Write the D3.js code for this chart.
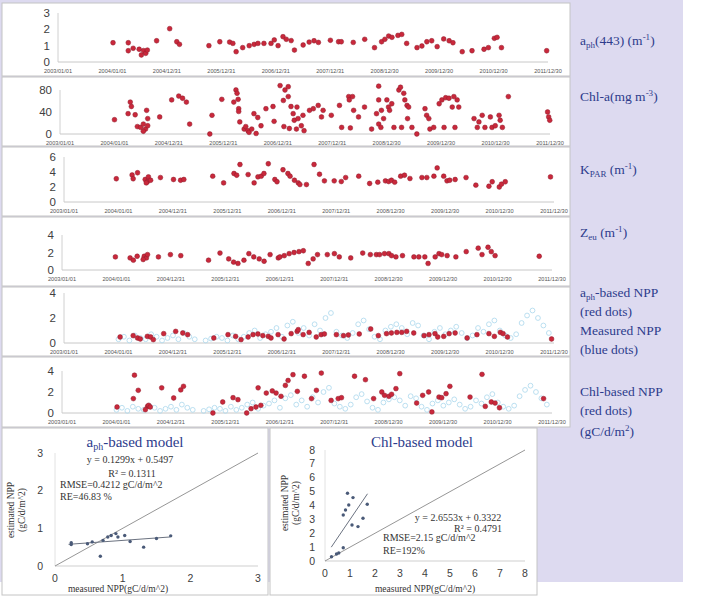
<!DOCTYPE html>
<html>
<head>
<meta charset="utf-8">
<script src="https://cdn.jsdelivr.net/npm/d3@7"></script>
<style>
body { margin: 0; background: #fff; }
</style>
</head>
<body>
<svg id="fig" width="704" height="597"></svg>
<script>
// x tick labels of the time series (Excel date axis, 365 day step)
const dateTicks = ["2003/01/01", "2004/01/01", "2004/12/31", "2005/12/31", "2006/12/31",
    "2007/12/31", "2008/12/30", "2009/12/30", "2010/12/30", "2011/12/30"];

// [decimal year, value]
const aph443 = [[2004.01,1.18],[2004.29,1.18],[2004.29,0.69],[2004.38,0.84],[2004.49,0.78],[2004.57,0.7],[2004.61,0.53],[2004.53,0.43],[2004.64,0.73],[2004.81,1.3],[2005.05,2.04],[2005.18,1.24],[2005.23,1.08],[2005.77,1.0],[2005.97,1.24],[2006.15,1.22],[2006.21,1.14],[2006.27,0.63],[2006.39,0.88],[2006.51,1.0],[2006.60,1.08],[2006.67,1.14],[2006.78,1.14],[2006.91,1.14],[2006.97,1.35],[2007.04,1.0],[2007.13,1.55],[2007.19,1.39],[2007.28,1.31],[2007.34,0.73],[2007.50,1.04],[2007.61,1.22],[2007.70,1.3],[2007.78,1.2],[2008.00,1.33],[2008.15,1.24],[2008.20,1.24],[2008.42,1.2],[2008.63,1.39],[2008.81,0.88],[2008.94,1.24],[2009.00,1.39],[2009.07,1.59],[2009.13,1.51],[2009.24,1.63],[2009.31,1.69],[2009.40,1.14],[2009.59,0.88],[2009.68,0.98],[2009.77,1.24],[2009.86,1.3],[2009.96,0.94],[2010.08,1.41],[2010.18,1.3],[2010.25,1.18],[2010.42,0.63],[2010.60,0.69],[2010.82,0.78],[2010.90,0.88],[2011.01,1.45],[2011.06,1.51],[2011.14,0.88],[2011.97,0.69]];

const chla = [[2004.00,26],[2004.29,58],[2004.31,50],[2004.25,37],[2004.38,35],[2004.42,13.5],[2004.48,12],[2004.59,43],[2004.61,28],[2004.53,18],[2004.57,9],[2004.53,5],[2004.61,15],[2004.83,31],[2005.05,62],[2005.18,69],[2005.25,65],[2005.32,58],[2005.38,18],[2005.75,0],[2005.79,34],[2005.97,63],[2006.19,58],[2006.23,80],[2006.25,74],[2006.27,63],[2006.28,46],[2006.28,41],[2006.30,22],[2006.38,9],[2006.41,13.5],[2006.45,6],[2006.47,3],[2006.52,9],[2006.60,1],[2006.56,37],[2006.63,30],[2006.69,15],[2006.78,46],[2006.91,50],[2006.93,23],[2007.04,88],[2007.10,61],[2007.13,80],[2007.19,86],[2007.19,68],[2007.24,50],[2007.28,37],[2007.30,25],[2007.11,13.5],[2007.21,10],[2007.34,9],[2007.35,49],[2007.37,28],[2007.43,15],[2007.48,6],[2007.46,34],[2007.58,43],[2007.65,46],[2007.74,52],[2007.80,31],[2007.83,43],[2007.98,34],[2008.13,52],[2008.17,12],[2008.30,68],[2008.37,68],[2008.31,62],[2008.39,43],[2008.33,11],[2008.48,31],[2008.59,49],[2008.72,9],[2008.85,87],[2008.85,62],[2008.81,37],[2008.90,43],[2008.94,28],[2008.85,18],[2008.89,12],[2009.00,62],[2009.03,49],[2009.05,43],[2009.09,55],[2009.13,12],[2009.22,80],[2009.25,85],[2009.31,74],[2009.33,62],[2009.37,52],[2009.40,49],[2009.38,28],[2009.27,12],[2009.46,12],[2009.55,0],[2009.70,46],[2009.73,34],[2009.77,28],[2009.79,9],[2009.86,12],[2009.96,55],[2010.01,62],[2010.08,66],[2010.14,65],[2010.23,68],[2010.29,62],[2010.20,49],[2010.32,49],[2010.05,12],[2010.25,12],[2010.60,28],[2010.66,12],[2010.69,22],[2010.75,34],[2010.80,12],[2010.90,31],[2010.93,12],[2010.99,15],[2011.06,34],[2011.08,25],[2011.12,12],[2011.23,68],[2011.95,40],[2011.97,31],[2011.99,25]];

const kpar = [[2003.96,3.1],[2004.25,3.6],[2004.27,3.1],[2004.35,3.9],[2004.49,3.0],[2004.53,2.7],[2004.55,3.35],[2004.51,2.55],[2004.59,2.9],[2004.77,3.26],[2005.01,3.0],[2005.14,2.9],[2005.20,3.0],[2005.73,3.44],[2005.93,2.55],[2006.12,3.8],[2006.17,3.57],[2006.23,5.0],[2006.38,3.66],[2006.49,2.55],[2006.56,3.35],[2006.62,3.44],[2006.67,3.8],[2006.75,5.1],[2006.87,3.0],[2006.91,2.7],[2007.02,4.3],[2007.11,3.8],[2007.15,3.44],[2007.23,2.9],[2007.30,2.55],[2007.33,2.33],[2007.45,2.33],[2007.59,5.0],[2007.69,3.7],[2007.78,2.82],[2007.96,2.82],[2008.09,2.73],[2008.17,3.26],[2008.41,3.44],[2008.61,2.47],[2008.76,2.64],[2008.90,2.82],[2008.96,2.73],[2009.01,2.9],[2009.07,2.64],[2009.18,3.44],[2009.25,3.57],[2009.35,3.13],[2009.57,3.26],[2009.66,3.26],[2009.79,3.44],[2009.85,4.54],[2009.97,3.44],[2010.03,2.82],[2010.08,2.9],[2010.18,3.0],[2010.38,3.26],[2010.56,2.25],[2010.80,2.1],[2010.86,2.7],[2010.99,2.0],[2011.03,2.38],[2011.10,2.7],[2011.93,3.35]];

const zeu = [[2003.98,1.5],[2004.25,1.38],[2004.31,1.12],[2004.38,1.57],[2004.51,1.57],[2004.55,1.38],[2004.57,1.76],[2004.49,1.2],[2004.77,1.5],[2004.99,1.76],[2005.18,1.64],[2005.69,1.12],[2005.90,1.94],[2006.06,1.27],[2006.15,0.9],[2006.23,0.75],[2006.34,1.12],[2006.43,1.87],[2006.52,1.5],[2006.62,1.27],[2006.71,1.0],[2006.82,1.76],[2006.97,1.38],[2007.00,1.5],[2007.08,1.64],[2007.17,1.87],[2007.26,2.0],[2007.35,2.1],[2007.43,2.2],[2007.52,0.75],[2007.61,1.27],[2007.69,1.76],[2007.87,1.76],[2008.00,1.87],[2008.09,1.5],[2008.30,1.38],[2008.52,1.94],[2008.66,1.76],[2008.77,1.76],[2008.83,1.76],[2008.92,1.87],[2009.00,1.87],[2009.05,1.64],[2009.13,1.5],[2009.25,1.64],[2009.46,1.5],[2009.55,1.5],[2009.66,1.5],[2009.72,0.75],[2009.85,1.5],[2009.92,1.87],[2009.97,1.76],[2010.07,1.64],[2010.23,1.5],[2010.42,2.1],[2010.64,2.5],[2010.71,1.76],[2010.82,2.6],[2010.88,2.1],[2010.95,1.64],[2011.76,1.57]];

const aphNPP = [[2004.03,0.48],[2004.27,0.59],[2004.35,0.4],[2004.40,0.32],[2004.53,0.53],[2004.59,0.48],[2004.64,0.27],[2004.83,0.75],[2005.05,0.93],[2005.18,0.8],[2005.27,0.67],[2005.75,0.4],[2006.01,0.67],[2006.15,0.53],[2006.25,0.27],[2006.38,0.48],[2006.47,0.67],[2006.56,0.72],[2006.65,0.59],[2006.75,0.53],[2006.80,0.4],[2006.93,0.67],[2007.04,0.32],[2007.17,0.75],[2007.28,0.93],[2007.30,1.07],[2007.39,0.67],[2007.50,0.85],[2007.63,0.48],[2007.72,0.67],[2007.78,0.72],[2008.00,0.67],[2008.13,0.59],[2008.22,0.64],[2008.42,0.72],[2008.63,1.12],[2008.77,0.59],[2008.92,0.75],[2009.01,0.8],[2009.11,0.85],[2009.20,0.85],[2009.29,0.93],[2009.42,0.8],[2009.61,0.59],[2009.70,0.67],[2009.81,0.75],[2009.86,0.48],[2009.97,0.53],[2010.07,0.75],[2010.18,0.8],[2010.40,0.4],[2010.58,0.67],[2010.80,0.75],[2010.90,0.53],[2011.01,0.85],[2011.06,0.75],[2011.14,0.48],[2011.95,0.32]];

const chlNPP = [[2004.01,0.57],[2004.31,1.37],[2004.33,3.6],[2004.40,2.16],[2004.57,0.63],[2004.59,0.73],[2004.62,0.57],[2004.53,0.32],[2004.83,2.4],[2005.05,1.43],[2005.18,2.2],[2005.23,2.54],[2005.77,0],[2005.95,1.05],[2006.14,1.46],[2006.23,1.27],[2006.39,0],[2006.47,0.41],[2006.56,0.57],[2006.60,2.4],[2006.65,0.73],[2006.75,1.9],[2006.86,2.1],[2006.93,1.9],[2007.02,1.59],[2007.10,2.63],[2007.15,3.1],[2007.24,3.65],[2007.32,2.06],[2007.45,3.5],[2007.58,1.37],[2007.67,2.16],[2007.76,3.8],[2007.94,1.2],[2008.07,1.37],[2008.13,1.46],[2008.37,3.5],[2008.57,3.17],[2008.72,1.37],[2008.87,2.0],[2008.92,1.68],[2009.00,1.59],[2009.05,1.78],[2009.13,2.32],[2009.20,3.75],[2009.51,0.95],[2009.62,1.68],[2009.73,2.0],[2009.79,0.1],[2009.92,1.52],[2009.97,1.46],[2010.05,1.84],[2010.12,2.54],[2010.49,1.52],[2010.71,3.68],[2010.77,0.63],[2010.88,1.05],[2010.95,0.95],[2011.03,0.5],[2011.84,1.37]];

const measuredNPP = [[2004.0,0.3],[2004.1,0.5],[2004.2,0.2],[2004.3,0.6],[2004.4,0.4],[2004.5,0.3],[2004.6,0.7],[2004.7,0.5],[2004.8,0.2],[2004.9,0.4],[2005.0,0.6],[2005.1,0.3],[2005.2,0.8],[2005.3,0.5],[2005.4,0.3],[2005.6,0.2],[2005.7,0.35],[2005.8,0.5],[2005.9,0.4],[2006.0,0.2],[2006.1,0.6],[2006.2,0.3],[2006.3,0.5],[2006.4,0.8],[2006.5,1.0],[2006.6,0.4],[2006.7,0.7],[2006.8,0.9],[2006.9,1.2],[2007.0,0.5],[2007.1,1.4],[2007.2,1.7],[2007.3,0.8],[2007.4,1.2],[2007.5,0.6],[2007.6,1.5],[2007.7,1.0],[2007.8,2.0],[2007.9,2.4],[2008.0,0.9],[2008.1,0.6],[2008.2,0.4],[2008.3,0.8],[2008.4,1.5],[2008.5,1.8],[2008.6,1.1],[2008.7,0.5],[2008.8,0.3],[2008.9,1.0],[2009.0,1.3],[2009.1,1.5],[2009.2,1.2],[2009.3,0.7],[2009.4,1.6],[2009.5,1.4],[2009.6,0.6],[2009.7,0.3],[2009.8,0.9],[2009.9,1.2],[2010.0,0.7],[2010.1,1.0],[2010.2,1.3],[2010.3,0.8],[2010.4,0.4],[2010.5,0.6],[2010.6,1.2],[2010.7,0.9],[2010.8,1.5],[2010.9,1.8],[2011.0,1.0],[2011.1,0.6],[2011.2,0.4],[2011.3,0.7],[2011.4,1.6],[2011.5,2.2],[2011.6,2.6],[2011.7,2.0],[2011.8,1.4],[2011.9,0.8]];

// validation scatter: [measured, estimated]
const aphScatter = [[0.24,0.62],[0.24,0.57],[0.48,0.59],[0.55,0.64],[0.67,0.26],[0.71,0.68],[0.78,0.77],[0.83,0.81],[0.9,0.86],[0.93,0.77],[1.03,0.81],[1.11,0.65],[1.31,0.5],[1.5,0.73],[1.71,0.8]];
const chlScatter = [[0.26,0.31],[0.46,0.5],[0.55,0.58],[0.73,0.96],[0.9,4.88],[1.12,4.57],[0.95,4.04],[0.82,3.68],[0.73,3.32],[1.08,2.6],[1.32,2.48],[1.52,3.08],[1.69,4.09]];
const aphFit = { slope: 0.1299, icpt: 0.5497, x: [0.2, 1.7] };
const chlFit = { slope: 2.6553, icpt: 0.3322, x: [0.25, 1.7] };

const svg = d3.select("#fig");
const lav = "#dddaf0", navy = "#2d3c8c";
const red = "#c9283b";

svg.append("rect").attr("x", 0).attr("y", 0).attr("width", 683).attr("height", 582).attr("fill", lav);

function decYear(s) {
    let p = s.split("/").map(Number);
    let d0 = new Date(p[0], 0, 1), d = new Date(p[0], p[1] - 1, p[2]), d1 = new Date(p[0] + 1, 0, 1);
    return p[0] + (d - d0) / (d1 - d0);
}
const tickYears = dateTicks.map(decYear);

// rich text: parts = [[text, "n"|"sub"|"sup"], ...]
function rich(sel, parts, subSize) {
    let shift = 0;
    parts.forEach(function (p) {
        let t = sel.append("tspan").text(p[0]);
        let target = p[1] == "sub" ? 3 : p[1] == "sup" ? -5 : 0;
        if (target != shift) { t.attr("dy", target - shift); shift = target; }
        if (p[1] != "n") t.attr("font-size", subSize);
    });
}

const panels = [
    { data: aph443, top: 3, bot: 76, x0: 58, y0: 62, y1: 13, max: 3, ticks: [0, 1, 2, 3] },
    { data: chla, top: 77, bot: 146, x0: 60, y0: 134, y1: 90, max: 80, ticks: [0, 40, 80] },
    { data: kpar, top: 147, bot: 216, x0: 64, y0: 202, y1: 157, max: 6, ticks: [0, 2, 4, 6] },
    { data: zeu, top: 217, bot: 286, x0: 62, y0: 270, y1: 235, max: 4, ticks: [0, 2, 4] },
    { data: aphNPP, top: 287, bot: 356, x0: 64, y0: 343, y1: 293, max: 4, ticks: [0, 2, 4], blue: true },
    { data: chlNPP, top: 357, bot: 427, x0: 62, y0: 413, y1: 371, max: 4, ticks: [0, 2, 4], blue: true }
];

panels.forEach(function (p) {
    let g = svg.append("g");
    g.append("rect").attr("x", 2).attr("y", p.top).attr("width", 568).attr("height", p.bot - p.top)
        .attr("fill", "#fff").attr("stroke", "#c4c4c4").attr("stroke-width", 1);
    let x = d3.scaleLinear().domain([2003, tickYears[tickYears.length - 1]]).range([p.x0, p.x0 + 490]);
    let y = d3.scaleLinear().domain([0, p.max]).range([p.y0, p.y1]);

    g.append("line").attr("x1", p.x0).attr("x2", p.x0).attr("y1", p.y1).attr("y2", p.y0)
        .attr("stroke", "#d0d0d0");
    g.append("line").attr("x1", p.x0).attr("x2", p.x0 + 490).attr("y1", p.y0).attr("y2", p.y0)
        .attr("stroke", "#c8c8c8");
    g.selectAll(".yt").data(p.ticks).enter().append("text")
        .attr("x", p.x0 - 8).attr("y", d => y(d) + 4)
        .attr("text-anchor", "end").attr("font-family", "Liberation Sans, sans-serif")
        .attr("font-size", 11.5).attr("fill", "#404040").text(d => d);
    g.selectAll(".xt").data(tickYears).enter().append("text")
        .attr("x", d => x(d)).attr("y", p.y0 + 11)
        .attr("text-anchor", "middle").attr("font-family", "Liberation Sans Narrow, Liberation Sans, sans-serif")
        .attr("font-size", 5.6).attr("fill", "#555").text((d, i) => dateTicks[i]);

    if (p.blue) {
        g.selectAll(".m").data(measuredNPP).enter().append("circle")
            .attr("cx", d => x(d[0])).attr("cy", d => y(d[1])).attr("r", 2.4)
            .attr("fill", "none").attr("stroke", "#b3dbee").attr("stroke-width", 0.9);
    }
    g.selectAll(".pt").data(p.data).enter().append("circle")
        .attr("cx", d => x(d[0])).attr("cy", d => y(d[1])).attr("r", 2.4)
        .attr("fill", red).attr("stroke", "#8f1c2c").attr("stroke-width", 0.5);
});

// right-hand labels
const serif = "Liberation Serif, Times New Roman, serif";
const sideLabels = [
    { y: 45, parts: [["a", "n"], ["ph", "sub"], ["(443) (m", "n"], ["-1", "sup"], [")", "n"]] },
    { y: 101, parts: [["Chl-a(mg m", "n"], ["-3", "sup"], [")", "n"]] },
    { y: 174, parts: [["K", "n"], ["PAR", "sub"], [" (m", "n"], ["-1", "sup"], [")", "n"]] },
    { y: 237, parts: [["Z", "n"], ["eu", "sub"], [" (m", "n"], ["-1", "sup"], [")", "n"]] },
    { y: 297, parts: [["a", "n"], ["ph", "sub"], ["-based NPP", "n"]] },
    { y: 316, parts: [["(red dots)", "n"]] },
    { y: 335, parts: [["Measured NPP", "n"]] },
    { y: 354, parts: [["(blue dots)", "n"]] },
    { y: 396, parts: [["Chl-based NPP", "n"]] },
    { y: 415, parts: [["(red dots)", "n"]] },
    { y: 436, parts: [["(gC/d/m", "n"], ["2", "sup"], [")", "n"]] }
];
sideLabels.forEach(function (l) {
    let t = svg.append("text").attr("x", 580).attr("y", l.y).attr("font-family", serif)
        .attr("font-size", 13.5).attr("fill", navy);
    rich(t, l.parts, 9);
});

// validation scatters
function scatterPanel(o) {
    let g = svg.append("g");
    g.append("rect").attr("x", o.fx).attr("y", 428).attr("width", o.fw).attr("height", 167)
        .attr("fill", "#fff").attr("stroke", "#c4c4c4");
    let x = d3.scaleLinear().domain([0, o.max]).range(o.xr);
    let y = d3.scaleLinear().domain([0, o.max]).range(o.yr);
    let ticks = d3.range(0, o.max + 1);
    g.append("line").attr("x1", x(0)).attr("x2", x(o.max)).attr("y1", y(0)).attr("y2", y(0)).attr("stroke", "#cfcfcf");
    g.append("line").attr("x1", x(0)).attr("x2", x(0)).attr("y1", y(0)).attr("y2", y(o.max)).attr("stroke", "#e2e2e2");
    g.selectAll(".xt").data(ticks).enter().append("text").attr("x", d => x(d)).attr("y", y(0) + 16)
        .attr("text-anchor", "middle").attr("font-family", "Liberation Sans, sans-serif").attr("font-size", 10.5)
        .attr("fill", "#404040").text(d => d);
    g.selectAll(".yt").data(ticks).enter().append("text").attr("x", x(0) - o.ypad).attr("y", d => y(d) + 3.5)
        .attr("text-anchor", "end").attr("font-family", "Liberation Sans, sans-serif").attr("font-size", 10.5)
        .attr("fill", "#404040").text(d => d);
    // 1:1 line
    g.append("line").attr("x1", x(0)).attr("y1", y(0)).attr("x2", x(o.max)).attr("y2", y(o.max))
        .attr("stroke", "#8a8a8a").attr("stroke-width", 0.9);
    // fit line
    g.append("line").attr("x1", x(o.fit.x[0])).attr("y1", y(o.fit.slope * o.fit.x[0] + o.fit.icpt))
        .attr("x2", x(o.fit.x[1])).attr("y2", y(o.fit.slope * o.fit.x[1] + o.fit.icpt))
        .attr("stroke", "#6b7280").attr("stroke-width", 1);
    g.selectAll(".pt").data(o.data).enter().append("circle")
        .attr("cx", d => x(d[0])).attr("cy", d => y(d[1])).attr("r", 1.7).attr("fill", "#4a5a78");
    let title = g.append("text").attr("x", o.tx).attr("y", 447).attr("text-anchor", "middle")
        .attr("font-family", serif).attr("font-size", 15).attr("fill", navy);
    rich(title, o.title, 10);
    o.notes.forEach(function (n) {
        g.append("text").attr("x", n[0]).attr("y", n[1]).attr("text-anchor", n[3])
            .attr("font-family", serif).attr("font-size", 10).attr("fill", "#333").text(n[2]);
    });
    let yl = g.append("text").attr("transform", "translate(" + o.ylx + "," + o.yly + ") rotate(-90)")
        .attr("text-anchor", "middle").attr("font-family", serif).attr("font-size", 9.5).attr("fill", "#333");
    yl.append("tspan").attr("x", 0).attr("dy", 0).text("estimated NPP");
    yl.append("tspan").attr("x", 0).attr("dy", 10.5).text("(gC/d/m^2)");
    g.append("text").attr("x", o.xlx).attr("y", 592).attr("text-anchor", "middle")
        .attr("font-family", serif).attr("font-size", 9.5).attr("fill", "#333").text("measured NPP(gC/d/m^2)");
}

scatterPanel({
    fx: 2, fw: 266, max: 3, xr: [55, 258], yr: [566, 453], ypad: 12, data: aphScatter, fit: aphFit,
    tx: 135, title: [["a", "n"], ["ph", "sub"], ["-based model", "n"]],
    notes: [[130, 463, "y = 0.1299x + 0.5497", "middle"], [132, 477, "R² = 0.1311", "middle"],
        [60, 488, "RMSE=0.4212 gC/d/m^2", "start"], [60, 500, "RE=46.83 %", "start"]],
    ylx: 14, yly: 510, xlx: 118
});
scatterPanel({
    fx: 270, fw: 267, max: 8, xr: [325, 525], yr: [561, 450], ypad: 10, data: chlScatter, fit: chlFit,
    tx: 422, title: [["Chl-based model", "n"]],
    notes: [[458, 521, "y = 2.6553x + 0.3322", "middle"], [478, 532, "R² = 0.4791", "middle"],
        [383, 541, "RMSE=2.15 gC/d/m^2", "start"], [383, 554, "RE=192%", "start"]],
    ylx: 288, yly: 503, xlx: 425
});
</script>
</body>
</html>
